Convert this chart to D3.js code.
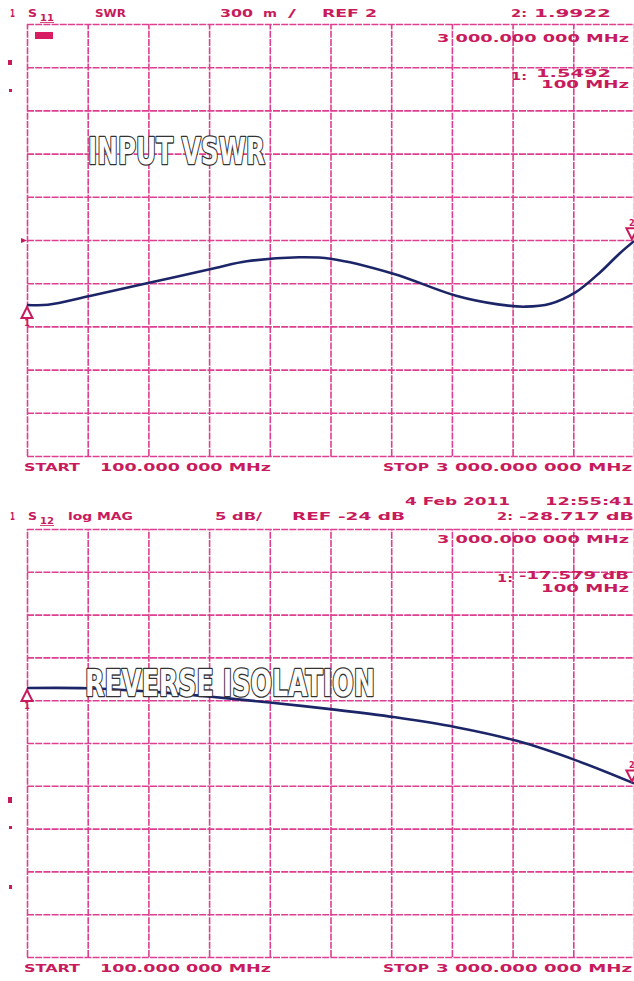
<!DOCTYPE html>
<html><head><meta charset="utf-8">
<script src="https://cdn.jsdelivr.net/npm/d3@7/dist/d3.min.js"></script>
<style>
html,body{margin:0;padding:0;background:#fff;}
svg{display:block;}
</style></head>
<body>
<svg id="c" width="634" height="981"></svg>
<script>
// ---- data ----
const vswrFreq = [100, 200, 400, 700, 1000, 1150, 1400, 1550, 1850, 2150, 2350, 2480, 2600, 2720, 2840, 2930, 3000];
const vswrVal  = [1.549, 1.550, 1.611, 1.708, 1.806, 1.852, 1.880, 1.870, 1.766, 1.613, 1.553, 1.537, 1.557, 1.636, 1.778, 1.905, 1.992];
const isoFreq  = [100, 390, 690, 980, 1270, 1570, 1860, 2150, 2440, 2720, 3000];
const isoVal   = [-17.579, -17.60, -18.00, -18.60, -19.30, -20.10, -21.00, -22.15, -23.75, -26.00, -28.717];
const xDivs = d3.range(0, 11);   // 10 divisions
const yDivs = d3.range(0, 11);

const svg = d3.select("#c");
const TXT = "#c81a5c", GRID = "#de3f8e", TRACE = "#1b2567";
const L = 27, R = 634;

function panel(top, bottom, domain) {
  const x = d3.scaleLinear().domain([100, 3000]).range([L, R]);
  const y = d3.scaleLinear().domain(domain).range([bottom, top]);
  const g = svg.append("g");
  const xv = d3.scaleLinear().domain([0, 10]).range([L, R]);
  const yv = d3.scaleLinear().domain([0, 10]).range([bottom, top]);
  g.append("g").attr("transform", `translate(0,${bottom})`)
    .call(d3.axisBottom(xv).tickValues(xDivs).tickSize(-(bottom - top)).tickFormat(""))
    .call(a => a.select(".domain").remove())
    .selectAll("line").attr("stroke", GRID).attr("stroke-width", 1.6).attr("stroke-dasharray", "7,1.2");
  g.append("g").attr("transform", `translate(${L},0)`)
    .call(d3.axisLeft(yv).tickValues(yDivs).tickSize(-(R - L)).tickFormat(""))
    .call(a => a.select(".domain").remove())
    .selectAll("line").attr("stroke", GRID).attr("stroke-width", 1.6).attr("stroke-dasharray", "7,1.2");
  return {x, y, g};
}

function txt(x, y, s, len, size) {
  const t = svg.append("text").attr("x", x).attr("y", y).text(s)
    .attr("fill", TXT).attr("font-family", "DejaVu Sans, sans-serif")
    .attr("font-weight", "bold").attr("font-size", size || 10.5);
  if (len) t.attr("textLength", len).attr("lengthAdjust", "spacingAndGlyphs");
  return t;
}

function trace(p, fr, vals) {
  const line = d3.line().x(d => p.x(d[0])).y(d => p.y(d[1])).curve(d3.curveCatmullRom.alpha(0.5));
  p.g.append("path").datum(fr.map((f, i) => [f, vals[i]]))
    .attr("d", line).attr("fill", "none").attr("stroke", TRACE)
    .attr("stroke-width", 2.6).attr("stroke-linejoin", "round");
}

// marker below the trace (pointing up) or above it (pointing down)
function marker(p, f, v, n, above) {
  const cx = p.x(f), py = p.y(v);
  const s = above ? -1 : 1;
  const cy = py + 2 * s;
  p.g.append("path").attr("d", `M${cx},${cy} L${cx + 5.5},${cy + 11 * s} L${cx - 5.5},${cy + 11 * s} Z`)
    .attr("fill", "#fff").attr("stroke", TXT).attr("stroke-width", 2);
  svg.append("text").attr("x", cx).attr("y", above ? cy - 13 : cy + 19).attr("text-anchor", "middle")
    .attr("fill", TXT).attr("font-family", "DejaVu Sans").attr("font-weight", "bold")
    .attr("font-size", 8).text(n);
}

function bigLabel(x, y, s, len) {
  svg.append("text").attr("x", x).attr("y", y).text(s)
    .attr("font-family", "Liberation Sans Narrow, DejaVu Sans Condensed, Arial Narrow, sans-serif")
    .attr("font-weight", "bold").attr("font-size", 37)
    .attr("textLength", len).attr("lengthAdjust", "spacingAndGlyphs")
    .attr("fill", "#fdfdfd").attr("stroke", "#333").attr("stroke-width", 2.6)
    .attr("stroke-linejoin", "round").attr("paint-order", "stroke");
}

// ---- top panel: S11 SWR ----
const p1 = panel(24, 456, [0.5, 3.5]);
p1.g.append("rect").attr("x", 35).attr("y", 32).attr("width", 18).attr("height", 7).attr("fill", "#d81e62");
trace(p1, vswrFreq, vswrVal);
bigLabel(88, 164, "INPUT VSWR", 177);
marker(p1, vswrFreq[0], vswrVal[0], "1", false);
marker(p1, 2990, vswrVal[vswrVal.length - 1], "2", true);

txt(10, 17, "1", 5);
txt(28, 17, "S", 9);
txt(40, 21, "11", 14, 8).attr("text-decoration", "underline");
txt(95, 17, "SWR", 31);
txt(220, 17, "300", 33);
txt(263, 17, "m", 14);
txt(288, 17, "/", 8);
txt(322, 17, "REF 2", 55);
txt(511, 17, "2:", 16);
txt(534, 17, "1.9922", 77);
txt(437, 42, "3 000.000 000 MHz", 192);
txt(511, 80, "1:", 16);
txt(536, 77, "1.5492", 75);
txt(541, 88, "100 MHz", 88);
txt(24, 471, "START", 56);
txt(100, 471, "100.000 000 MHz", 171);
txt(383, 471, "STOP", 46);
txt(436, 471, "3 000.000 000 MHz", 196);
svg.append("rect").attr("x", 8).attr("y", 60).attr("width", 4).attr("height", 5).attr("fill", TXT);
svg.append("rect").attr("x", 9).attr("y", 89).attr("width", 3).attr("height", 3).attr("fill", TXT);
svg.append("path").attr("d", "M21,238 L27,240.5 L21,243 Z").attr("fill", TXT);

// ---- bottom panel: S12 log MAG ----
const p2 = panel(529, 957, [-49, 1]);
trace(p2, isoFreq, isoVal);
bigLabel(85, 696, "REVERSE ISOLATION", 290);
marker(p2, isoFreq[0], isoVal[0], "1", false);
marker(p2, 2990, isoVal[isoVal.length - 1], "2", true);

txt(405, 505, "4 Feb 2011", 105);
txt(545, 505, "12:55:41", 89);
txt(10, 520, "1", 5);
txt(28, 520, "S", 9);
txt(40, 524, "12", 14, 8).attr("text-decoration", "underline");
txt(68, 520, "log MAG", 65);
txt(215, 520, "5 dB/", 47);
txt(292, 520, "REF -24 dB", 113);
txt(497, 520, "2:", 16);
txt(519, 520, "-28.717 dB", 115);
txt(437, 543, "3 000.000 000 MHz", 192);
txt(497, 582, "1:", 16);
txt(519, 579, "-17.579 dB", 110);
txt(541, 592, "100 MHz", 88);
txt(24, 972, "START", 56);
txt(100, 972, "100.000 000 MHz", 171);
txt(383, 972, "STOP", 46);
txt(436, 972, "3 000.000 000 MHz", 196);
svg.append("rect").attr("x", 8).attr("y", 797).attr("width", 4).attr("height", 6).attr("fill", TXT);
svg.append("rect").attr("x", 9).attr("y", 826).attr("width", 3).attr("height", 3).attr("fill", TXT);
svg.append("rect").attr("x", 9).attr("y", 885).attr("width", 3).attr("height", 4).attr("fill", TXT);
</script>
</body></html>
